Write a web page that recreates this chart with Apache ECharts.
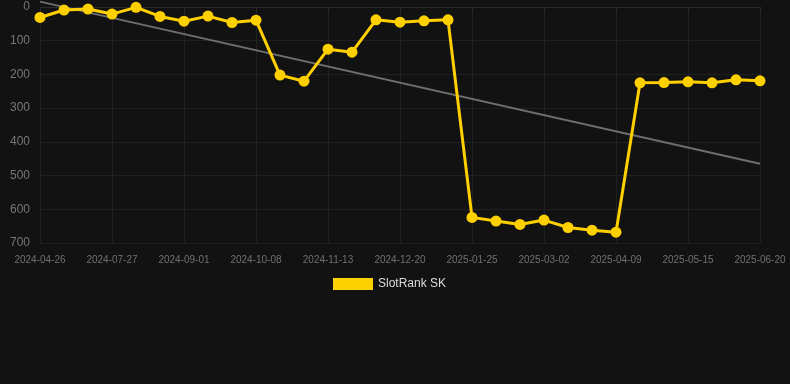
<!DOCTYPE html>
<html>
<head>
<meta charset="utf-8">
<style>
  html, body { margin: 0; padding: 0; background: #121212; }
  #chart { width: 790px; height: 384px; }
</style>
<script src="https://cdn.jsdelivr.net/npm/echarts@6/dist/echarts.min.js"></script>
</head>
<body>
<div id="chart"></div>
<script>
// 日期(类目轴)
const dates = [
  '2024-04-26', '2024-06-21', '2024-07-15', '2024-07-27', '2024-08-08', '2024-08-20',
  '2024-09-01', '2024-09-13', '2024-09-26', '2024-10-08', '2024-10-20', '2024-11-01',
  '2024-11-13', '2024-11-25', '2024-12-08', '2024-12-20', '2025-01-01', '2025-01-13',
  '2025-01-25', '2025-02-06', '2025-02-18', '2025-03-02', '2025-03-15', '2025-03-27',
  '2025-04-09', '2025-04-21', '2025-05-03', '2025-05-15', '2025-05-27', '2025-06-08',
  '2025-06-20'
];

// 排名
const rankSK = [
  31, 9, 6, 21, 1, 28, 42, 27, 46, 39, 202, 220, 125, 134, 38, 45,
  41, 38, 624, 635, 645, 632, 654, 662, 668, 225, 224, 222, 225, 216, 219
];

// 趋势线两端
const trendStart = -16;
const trendEnd = 465;
const trend = dates.map((d, i) => (i === 0 ? trendStart : i === dates.length - 1 ? trendEnd : null));

const yTicks = { min: 0, max: 700, interval: 100 };

const chart = echarts.init(document.getElementById('chart'));

const option = {
  backgroundColor: '#121212',
  animation: false,
  grid: { left: 40, right: 30, top: 7, bottom: 141 },
  legend: {
    top: 278,
    left: 333,
    itemWidth: 40,
    itemHeight: 12,
    itemGap: 10,
    padding: 0,
    data: ['SlotRank SK'],
    textStyle: { color: '#dddddd', fontSize: 12 },
    icon: 'rect'
  },
  xAxis: {
    type: 'category',
    data: dates,
    boundaryGap: false,
    axisLine: { lineStyle: { color: '#2a2a2a' } },
    axisTick: { show: true, interval: 2, lineStyle: { color: '#2a2a2a' } },
    axisLabel: { interval: 2, color: '#707070', fontSize: 10, margin: 12 },
    splitLine: { show: true, interval: 2, lineStyle: { color: '#202020' } }
  },
  yAxis: {
    type: 'value',
    inverse: true,
    min: yTicks.min,
    max: yTicks.max,
    interval: yTicks.interval,
    axisLine: { show: false },
    axisTick: { show: false },
    axisLabel: { color: '#777777', fontSize: 12, margin: 10 },
    splitLine: { lineStyle: { color: '#202020' } }
  },
  series: [
    {
      name: 'Trend',
      type: 'line',
      data: trend,
      connectNulls: true,
      showSymbol: false,
      clip: false,
      lineStyle: { color: '#6e6e6e', width: 2 },
      silent: true,
      z: 1
    },
    {
      name: 'SlotRank SK',
      type: 'line',
      data: rankSK,
      symbol: 'circle',
      symbolSize: 11,
      clip: false,
      itemStyle: { color: '#ffd000' },
      lineStyle: { color: '#ffd000', width: 3 },
      z: 2
    }
  ]
};

chart.setOption(option);
</script>
</body>
</html>
